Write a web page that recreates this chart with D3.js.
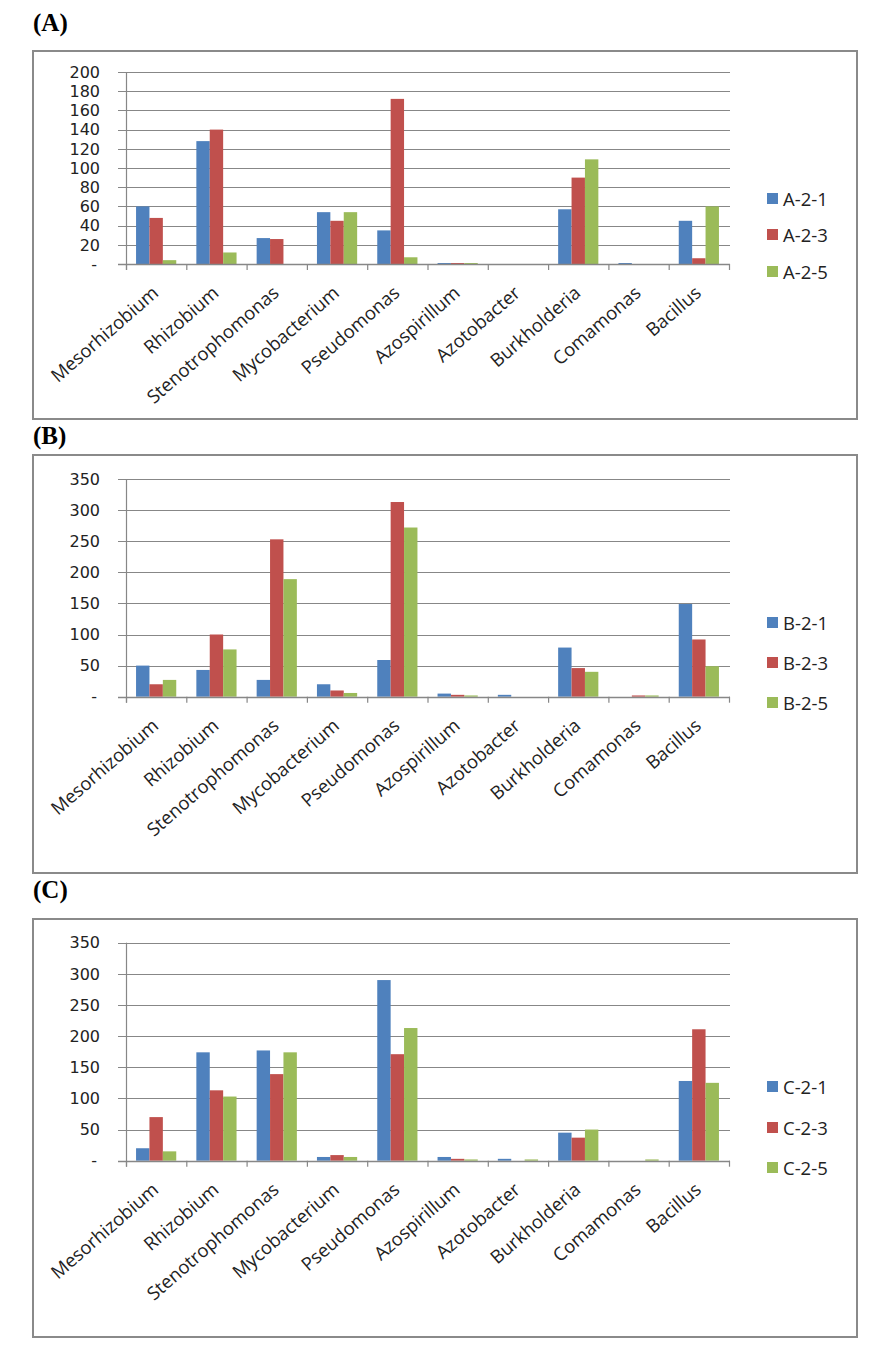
<!DOCTYPE html>
<html>
<head>
<meta charset="utf-8">
<script src="https://cdn.jsdelivr.net/npm/d3@7"></script>
<style>
  html, body { margin: 0; padding: 0; background: #fff; }
  svg { display: block; }
</style>
</head>
<body>
<svg id="chart" width="880" height="1354"></svg>
<script>
// ---------- DATA ----------
const categories = ["Mesorhizobium", "Rhizobium", "Stenotrophomonas", "Mycobacterium", "Pseudomonas",
                    "Azospirillum", "Azotobacter", "Burkholderia", "Comamonas", "Bacillus"];

const seriesNamesA = ["A-2-1", "A-2-3", "A-2-5"];
const valuesA21 = [60, 128, 27, 54, 35, 1, 0, 57, 1, 45];
const valuesA23 = [48, 140, 26, 45, 172, 1, 0, 90, 0, 6];
const valuesA25 = [4, 12, 0, 54, 7, 1, 0, 109, 0, 60];
const ticksA = [0, 20, 40, 60, 80, 100, 120, 140, 160, 180, 200];

const seriesNamesB = ["B-2-1", "B-2-3", "B-2-5"];
const valuesB21 = [50, 43, 27, 20, 59, 5, 3, 79, 0, 149];
const valuesB23 = [20, 100, 253, 10, 313, 3, 0, 46, 2, 92];
const valuesB25 = [27, 76, 189, 6, 272, 2, 0, 40, 2, 49];
const ticksB = [0, 50, 100, 150, 200, 250, 300, 350];

const seriesNamesC = ["C-2-1", "C-2-3", "C-2-5"];
const valuesC21 = [20, 174, 177, 6, 290, 6, 3, 45, 0, 128];
const valuesC23 = [70, 113, 139, 9, 171, 3, 0, 37, 0, 211];
const valuesC25 = [15, 103, 174, 6, 213, 2, 2, 50, 2, 125];
const ticksC = [0, 50, 100, 150, 200, 250, 300, 350];

const panelLabels = ["(A)", "(B)", "(C)"];
const colors = ["#4F81BD", "#C0504D", "#9BBB59"];

// ---------- LAYOUT ----------
const panels = [
  { label: panelLabels[0], labelY: 31, frame: [33, 51, 857, 419], top: 72, zero: 264,
    max: 200, ticks: ticksA, names: seriesNamesA, series: [valuesA21, valuesA23, valuesA25],
    legendY: [199, 235, 272] },
  { label: panelLabels[1], labelY: 444, frame: [33, 455, 857, 873], top: 479, zero: 696.7,
    max: 350, ticks: ticksB, names: seriesNamesB, series: [valuesB21, valuesB23, valuesB25],
    legendY: [623, 663, 703] },
  { label: panelLabels[2], labelY: 898, frame: [33, 919, 857, 1337], top: 942.7, zero: 1160.7,
    max: 350, ticks: ticksC, names: seriesNamesC, series: [valuesC21, valuesC23, valuesC25],
    legendY: [1087, 1128, 1168] }
];

const xLeft = 126, xRight = 729;
const svg = d3.select("#chart");
const gridColor = "#878787";
const fontSans = "'Open Sans', 'DejaVu Sans', sans-serif";
const fontTicks = "'DejaVu Sans', 'Open Sans', sans-serif";

panels.forEach(p => {
  const g = svg.append("g");

  // panel label
  g.append("text")
    .attr("x", 33).attr("y", p.labelY)
    .attr("font-family", "'Liberation Serif', 'Times New Roman', serif")
    .attr("font-weight", "bold").attr("font-size", 25)
    .attr("fill", "#000")
    .text(p.label);

  // frame
  const [fx0, fy0, fx1, fy1] = p.frame;
  g.append("rect")
    .attr("x", fx0).attr("y", fy0)
    .attr("width", fx1 - fx0).attr("height", fy1 - fy0)
    .attr("fill", "#fff").attr("stroke", "#8a8a8a").attr("stroke-width", 2);

  const x = d3.scaleBand().domain(categories).range([xLeft, xRight]).paddingInner(0).paddingOuter(0);
  const step = x.bandwidth();
  const barW = step / 4.5;
  const xs = d3.scaleBand().domain([0, 1, 2]).range([barW * 0.75, step - barW * 0.75]).padding(0);
  const y = d3.scaleLinear().domain([0, p.max]).range([p.zero, p.top]);

  // gridlines
  g.append("g").selectAll("line").data(p.ticks).join("line")
    .attr("x1", xLeft - 8).attr("x2", xRight + 1)
    .attr("y1", d => Math.round(y(d)) + 0.5).attr("y2", d => Math.round(y(d)) + 0.5)
    .attr("stroke", gridColor).attr("stroke-width", 1.2);

  // y axis line
  g.append("line")
    .attr("x1", xLeft + 0.5).attr("x2", xLeft + 0.5)
    .attr("y1", y(p.max)).attr("y2", p.zero + 6)
    .attr("stroke", gridColor).attr("stroke-width", 1.2);

  // y tick labels
  g.append("g").selectAll("text").data(p.ticks).join("text")
    .attr("x", d => d === 0 ? 97 : 100)
    .attr("y", d => y(d))
    .attr("dy", "0.36em")
    .attr("text-anchor", "end")
    .attr("font-family", fontTicks).attr("font-size", 16)
    .attr("fill", "#222")
    .text(d => d === 0 ? "-" : d3.format("d")(d));

  // bars
  p.series.forEach((vals, si) => {
    g.append("g").selectAll("rect").data(categories).join("rect")
      .attr("x", (c) => x(c) + xs(si))
      .attr("width", xs.bandwidth())
      .attr("y", (c, i) => y(vals[i]))
      .attr("height", (c, i) => p.zero - y(vals[i]))
      .attr("fill", colors[si]);
  });

  // x axis line and tick marks at category boundaries
  g.append("line")
    .attr("x1", xLeft - 8).attr("x2", xRight + 1)
    .attr("y1", Math.round(p.zero) + 0.5).attr("y2", Math.round(p.zero) + 0.5)
    .attr("stroke", gridColor).attr("stroke-width", 1.4);
  const bounds = categories.map(c => x(c)).concat([xRight]);
  g.append("g").selectAll("line").data(bounds).join("line")
    .attr("x1", d => d + 0.5).attr("x2", d => d + 0.5)
    .attr("y1", p.zero).attr("y2", p.zero + 6)
    .attr("stroke", gridColor).attr("stroke-width", 1.2);

  // x labels, rotated
  g.append("g").selectAll("text").data(categories).join("text")
    .attr("transform", c => `translate(${x(c) + step / 2 - 5},${p.zero + 21}) rotate(-41)`)
    .attr("text-anchor", "end")
    .attr("dy", "0.7em")
    .attr("font-family", fontSans).attr("font-size", 18.5)
    .attr("fill", "#222")
    .text(c => c);

  // legend
  p.names.forEach((n, si) => {
    g.append("rect")
      .attr("x", 767).attr("y", p.legendY[si] - 6)
      .attr("width", 11).attr("height", 11)
      .attr("fill", colors[si]);
    g.append("text")
      .attr("x", 783).attr("y", p.legendY[si])
      .attr("dy", "0.36em")
      .attr("font-family", fontSans).attr("font-size", 18.5)
      .attr("fill", "#222")
      .text(n);
  });
});
</script>
</body>
</html>
